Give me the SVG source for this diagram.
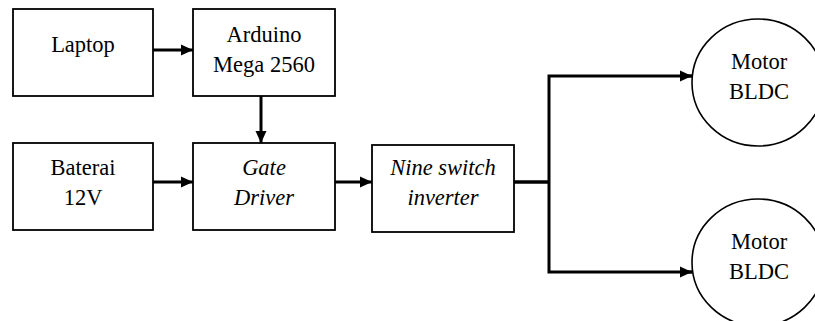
<svg xmlns="http://www.w3.org/2000/svg" width="815" height="321" viewBox="0 0 815 321">
<style>
.box{fill:#fff;stroke:#000;stroke-width:1.8}
.mot{fill:#fff;stroke:#000;stroke-width:1.6}
.t{font-size:22.5px;fill:#000;text-anchor:middle}
.i{font-style:italic}
.c{fill:none;stroke:#000;stroke-width:3}
</style>
<defs>
<marker id="ah" markerUnits="userSpaceOnUse" markerWidth="12" markerHeight="12" viewBox="0 0 12 12" refX="12" refY="6" orient="auto">
<path d="M0,0.5 L12,6 L0,11.5 Z" fill="#000"/>
</marker>
</defs>
<rect width="815" height="321" fill="#fff"/>
<g id="connectors">
<line class="c" x1="153" y1="50" x2="193" y2="50" marker-end="url(#ah)"/>
<line class="c" x1="261" y1="96" x2="261" y2="143" marker-end="url(#ah)"/>
<line class="c" x1="153" y1="182" x2="193" y2="182" marker-end="url(#ah)"/>
<line class="c" x1="335" y1="182" x2="372" y2="182" marker-end="url(#ah)"/>
<line class="c" x1="514" y1="182" x2="549" y2="182" style="stroke-width:3.5"/>
<polyline class="c" points="692,76 549,76 549,272 692,272"/>
<line class="c" x1="680" y1="76" x2="692" y2="76" marker-end="url(#ah)"/>
<line class="c" x1="680" y1="272" x2="692" y2="272" marker-end="url(#ah)"/>
</g>
<g font-family="Liberation Serif, Times New Roman, serif">
<g id="laptop">
<rect class="box" x="13" y="9" width="140" height="87"/>
<text class="t" x="83" y="51.5">Laptop</text>
</g>
<g id="arduino">
<rect class="box" x="193" y="9" width="142" height="87"/>
<text class="t" x="264" y="41.5">Arduino</text>
<text class="t" x="264" y="71.5">Mega 2560</text>
</g>
<g id="baterai">
<rect class="box" x="13" y="143" width="140" height="87"/>
<text class="t" x="83" y="175">Baterai</text>
<text class="t" x="83" y="205">12V</text>
</g>
<g id="gate-driver">
<rect class="box" x="193" y="143" width="142" height="87"/>
<text class="t i" x="264" y="175">Gate</text>
<text class="t i" x="264" y="205">Driver</text>
</g>
<g id="nine-switch-inverter">
<rect class="box" x="372" y="145" width="142" height="87"/>
<text class="t i" x="443" y="175">Nine switch</text>
<text class="t i" x="443" y="205">inverter</text>
</g>
<g id="motor1">
<ellipse class="mot" cx="758" cy="82.5" rx="66" ry="63.5"/>
<text class="t" x="759" y="69">Motor</text>
<text class="t" x="759" y="99">BLDC</text>
</g>
<g id="motor2">
<ellipse class="mot" cx="758" cy="262.5" rx="66" ry="63.5"/>
<text class="t" x="759" y="249">Motor</text>
<text class="t" x="759" y="279">BLDC</text>
</g>
</g>
</svg>
